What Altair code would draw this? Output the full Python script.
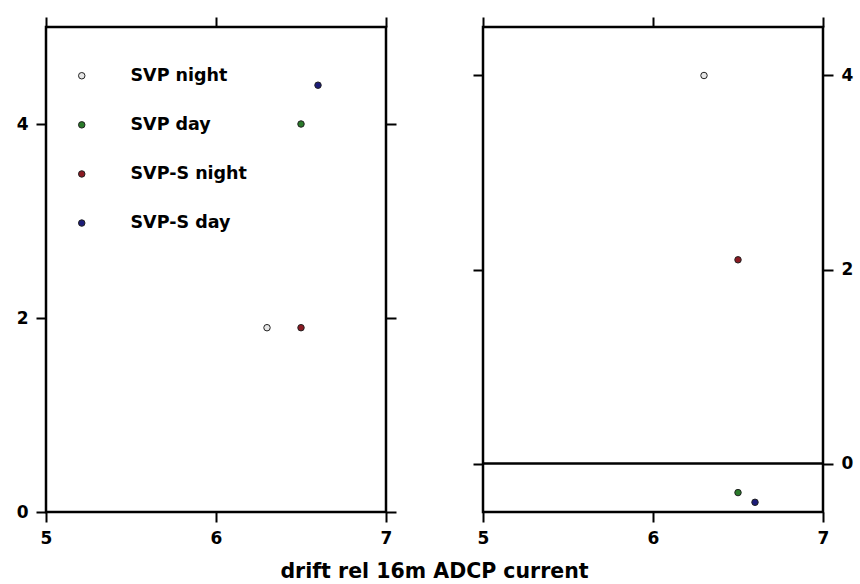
import altair as alt
import pandas as pd

series = ["SVP night", "SVP day", "SVP-S night", "SVP-S day"]
colors = ["#e6e6e6", "#2a7a2a", "#8a1a22", "#1c1c78"]

x_left = [6.3, 6.5, 6.5, 6.6]
y_left = [1.9, 4.0, 1.9, 4.4]
x_right = [6.3, 6.5, 6.5, 6.6]
y_right = [4.0, -0.3, 2.1, -0.4]
zero_line = [0]

x_domain = [5, 7]
x_ticks = [5, 6, 7]
yl_domain = [0, 5]
yr_domain = [-0.5, 4.5]
y_ticks = [0, 2, 4]

df_left = pd.DataFrame({"series": series, "x": x_left, "y": y_left})
df_right = pd.DataFrame({"series": series, "x": x_right, "y": y_right})
df_zero = pd.DataFrame({"y": zero_line})

FONT = "DejaVu Sans"
W, H = 340, 485

color_scale = alt.Scale(domain=series, range=colors)
xs = alt.Scale(domain=x_domain, nice=False, zero=False)


def axis(orient, labels=True):
    return alt.Axis(orient=orient, values=(x_ticks if orient in ("top", "bottom") else y_ticks),
                    labels=labels, title=None, grid=False, domain=False,
                    labelExpr="datum.value", labelFlush=False,
                    tickColor="black", tickWidth=2, tickSize=10,
                    labelFont=FONT, labelFontWeight="bold", labelFontSize=17,
                    labelColor="black", labelPadding=8)


def panel(df, ydom, yorient, legend, with_zero=False):
    ys = alt.Scale(domain=ydom, nice=False, zero=False)
    other = "right" if yorient == "left" else "left"
    pts = alt.Chart(df).mark_circle(size=42, opacity=1, stroke="#222222", strokeWidth=1).encode(
        x=alt.X("x:Q", scale=xs, axis=axis("bottom")),
        y=alt.Y("y:Q", scale=ys, axis=axis(yorient)),
        fill=alt.Fill("series:N", scale=color_scale, sort=series, legend=legend),
    )
    dummy = alt.Chart(df).mark_circle(opacity=0).encode(
        x=alt.X("x:Q", scale=xs, axis=axis("top", labels=False)),
        y=alt.Y("y:Q", scale=ys, axis=axis(other, labels=False)),
    )
    layers = [pts, dummy]
    if with_zero:
        layers.append(
            alt.Chart(df_zero).mark_rule(color="black", strokeWidth=2.5).encode(
                y=alt.Y("y:Q", scale=ys, axis=None)
            )
        )
    return alt.layer(*layers).resolve_axis(x="independent", y="independent").properties(width=W, height=H)


legend = alt.Legend(orient="none", legendX=27, legendY=40, title=None,
                    symbolType="circle", symbolSize=42, symbolStrokeColor="#222222",
                    symbolStrokeWidth=1, symbolOpacity=1,
                    labelFont=FONT, labelFontWeight="bold", labelFontSize=17.5,
                    labelColor="black", labelOffset=40, rowPadding=30.1, padding=0)

left = panel(df_left, yl_domain, "left", legend)
right = panel(df_right, yr_domain, "right", None, with_zero=True)

chart = alt.hconcat(left, right, spacing=71).properties(
    title=alt.TitleParams("drift rel 16m ADCP current", orient="bottom", anchor="middle",
                          font=FONT, fontWeight="bold", fontSize=20.5, color="black", offset=15),
    padding={"left": 14, "top": 14, "right": 2, "bottom": 1},
    background="white",
).configure_view(stroke="black", strokeWidth=2.5)

chart.save("out.html", embed_options={"renderer": "svg", "actions": False})
